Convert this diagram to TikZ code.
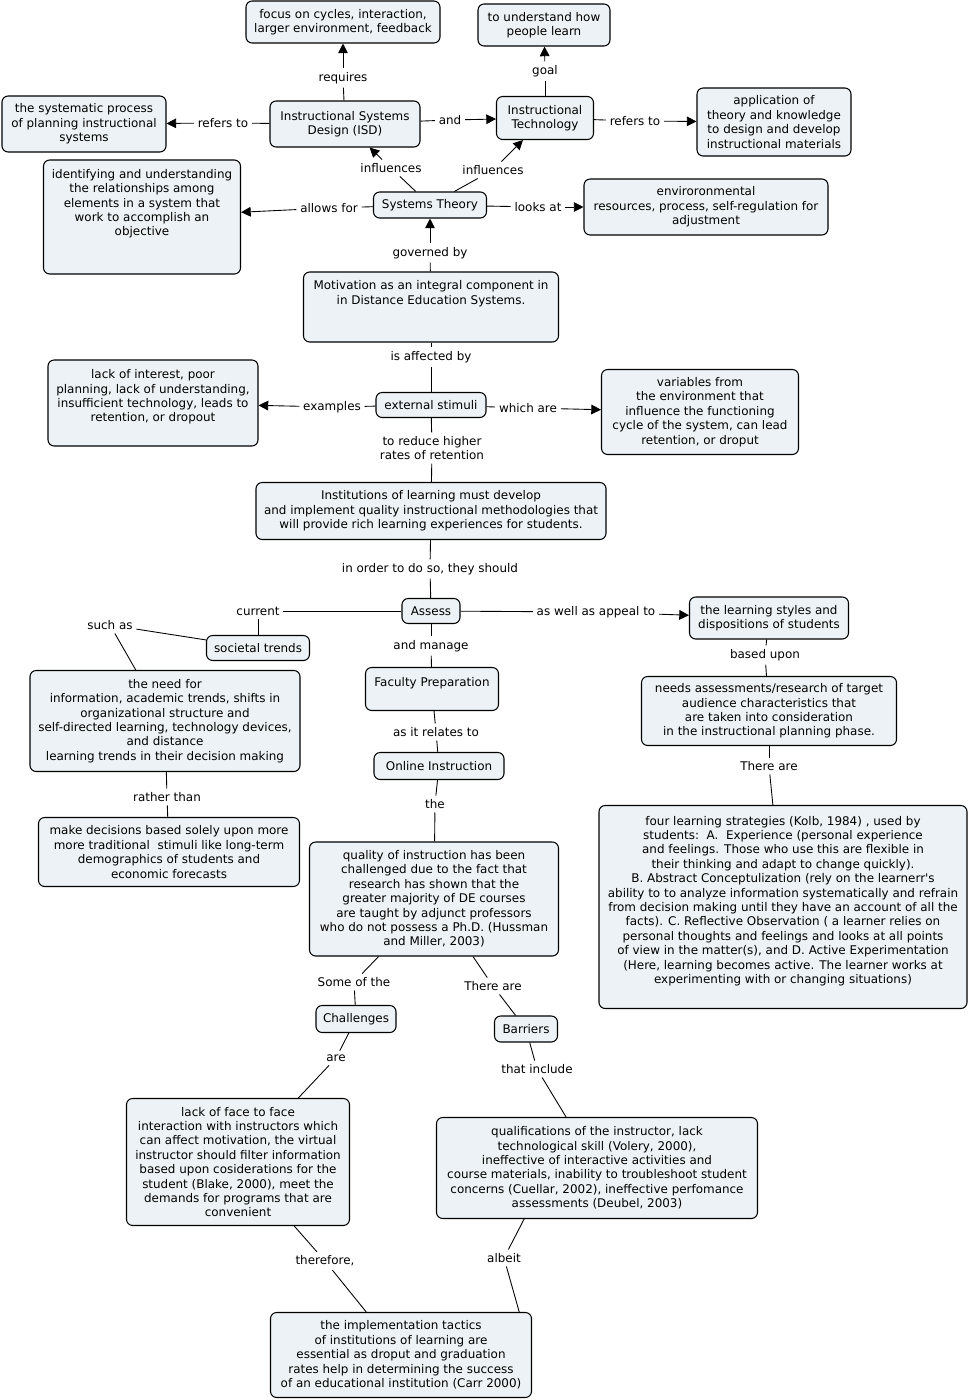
\documentclass[tikz,border=0pt]{standalone}
\usepackage{fontspec}
\setmainfont{DejaVu Sans}
\usetikzlibrary{arrows.meta}
\definecolor{conceptfill}{RGB}{236,242,245}
\tikzset{
  concept/.style={draw, fill=conceptfill, rounded corners=3.5pt, align=center, inner xsep=2pt, inner ysep=2pt, line width=0.6pt},
  sz/.style 2 args={minimum width=#1*0.02cm, minimum height=#2*0.02cm},
  linkword/.style={align=center, inner sep=2pt},
  link/.style={line width=0.5pt},
  arr/.style={line width=0.5pt, -{Triangle[length=5.5pt,width=5.5pt]}}
}
\begin{document}
\begin{tikzpicture}[x=0.02cm, y=-0.02cm, font=\fontsize{6.8}{8.2}\selectfont]
\useasboundingbox (0,0) rectangle (969,1400);

\node[concept, sz={194}{42}] (focus) at (343,22) {focus on cycles, interaction,\\larger environment, feedback};
\node[concept, sz={132}{42}] (learn) at (544,25) {to understand how\\people learn};
\node[concept, sz={164}{56}] (sysproc) at (84,124) {the systematic process\\of planning instructional\\systems};
\node[concept, sz={150}{46}] (isd) at (345,124) {Instructional Systems\\Design (ISD)};
\node[concept, sz={97}{43}] (itech) at (545,118) {Instructional\\Technology};
\node[concept, sz={154}{68}] (appl) at (774,122) {application of\\theory and knowledge\\to design and develop\\instructional materials};
\node[concept, sz={197}{114}] (relat) at (142,217) {identifying and understanding\\the relationships among\\elements in a system that\\work to accomplish an\\objective\\ \mbox{}\\ \mbox{}};
\node[concept, sz={113}{26}] (systh) at (430,205) {Systems Theory};
\node[concept, sz={244}{56}] (envir) at (706,207) {enviroronmental\\resources, process, self-regulation for\\adjustment};
\node[concept, sz={255}{70}] (motiv) at (431,307) {Motivation as an integral component in\\in Distance Education Systems.\\ \mbox{}\\ \mbox{}};
\node[concept, sz={210}{86}] (examp) at (153,403) {lack of interest, poor\\planning, lack of understanding,\\insufficient technology, leads to\\retention, or dropout\\ \mbox{}};
\node[concept, sz={110}{25}] (stimuli) at (431,405) {external stimuli};
\node[concept, sz={197}{85}] (vars) at (700,412) {variables from\\the environment that\\influence the functioning\\cycle of the system, can lead\\retention, or droput};
\node[concept, sz={350}{57}] (instit) at (431,511) {Institutions of learning must develop\\and implement quality instructional methodologies that\\will provide rich learning experiences for students.};
\node[concept, sz={58}{25}] (assess) at (431,611) {Assess};
\node[concept, sz={159}{42}] (styles) at (769,618) {the learning styles and\\dispositions of students};
\node[concept, sz={103}{25}] (trends) at (258,648) {societal trends};
\node[concept, sz={270}{101}] (need) at (165,721) {the need for\\information, academic trends, shifts in\\organizational structure and\\self-directed learning, technology devices,\\and distance\\learning trends in their decision making};
\node[concept, sz={133}{43}] (faculty) at (432,689) {Faculty Preparation\\ \mbox{}};
\node[concept, sz={255}{69}] (needs) at (769,711) {needs assessments/research of target\\audience characteristics that\\are taken into consideration\\in the instructional planning phase.};
\node[concept, sz={130}{27}] (online) at (439,766) {Online Instruction};
\node[concept, sz={261}{69}] (decide) at (169,852) {make decisions based solely upon more\\more traditional\ \ stimuli like long-term\\demographics of students and\\economic forecasts};
\node[concept, sz={368}{203}] (kolb) at (783,907) {four learning strategies (Kolb, 1984) , used by\\students:\ \ A.\ \ Experience (personal experience\\and feelings. Those who use this are flexible in\\their thinking and adapt to change quickly).\\B. Abstract Conceptulization (rely on the learnerr\textquotesingle s\\ability to to analyze information systematically and refrain\\from decision making until they have an account of all the\\facts). C. Reflective Observation ( a learner relies on\\personal thoughts and feelings and looks at all points\\of view in the matter(s), and D. Active Experimentation\\(Here, learning becomes active. The learner works at\\experimenting with or changing situations)\\ \mbox{}};
\node[concept, sz={249}{114}] (quality) at (434,899) {quality of instruction has been\\challenged due to the fact that\\research has shown that the\\greater majority of DE courses\\are taught by adjunct professors\\who do not possess a Ph.D. (Hussman\\and Miller, 2003)};
\node[concept, sz={80}{27}] (chall) at (356,1019) {Challenges};
\node[concept, sz={63}{26}] (barr) at (526,1029) {Barriers};
\node[concept, sz={223}{127}] (face) at (238,1162) {lack of face to face\\interaction with instructors which\\can affect motivation, the virtual\\instructor should filter information\\based upon cosiderations for the\\student (Blake, 2000), meet the\\demands for programs that are\\convenient};
\node[concept, sz={321}{101}] (qual) at (597,1168) {qualifications of the instructor, lack\\technological skill (Volery, 2000),\\ineffective of interactive activities and\\course materials, inability to troubleshoot student\\concerns (Cuellar, 2002), ineffective perfomance\\assessments (Deubel, 2003)};
\node[concept, sz={261}{85}] (tactics) at (401,1355) {the implementation tactics\\of institutions of learning are\\essential as droput and graduation\\rates help in determining the success\\of an educational institution (Carr 2000)};

\node[linkword] (l1) at (343,78) {requires};
\node[linkword] (l2) at (223,123) {refers to};
\node[linkword] (l3) at (450,120) {and};
\node[linkword] (l4) at (545,71) {goal};
\node[linkword] (l5) at (635,121) {refers to};
\node[linkword] (l6) at (391,168) {influences};
\node[linkword] (l7) at (493,170) {influences};
\node[linkword] (l8) at (329,208) {allows for};
\node[linkword] (l9) at (538,207) {looks at};
\node[linkword] (l10) at (430,253) {governed by};
\node[linkword] (l11) at (431,357) {is affected by};
\node[linkword] (l12) at (332,407) {examples};
\node[linkword] (l13) at (528,408) {which are};
\node[linkword] (l14) at (432,448) {to reduce higher\\rates of retention};
\node[linkword] (l15) at (430,569) {in order to do so, they should};
\node[linkword] (l16) at (258,611) {current};
\node[linkword] (l17) at (110,625) {such as};
\node[linkword] (l18) at (596,612) {as well as appeal to};
\node[linkword] (l19) at (765,655) {based upon};
\node[linkword] (l20) at (769,766) {There are};
\node[linkword] (l21) at (431,646) {and manage};
\node[linkword] (l22) at (436,732) {as it relates to};
\node[linkword] (l23) at (435,804) {the};
\node[linkword] (l24) at (167,797) {rather than};
\node[linkword] (l25) at (354,982) {Some of the};
\node[linkword] (l26) at (493,986) {There are};
\node[linkword] (l27) at (336,1058) {are};
\node[linkword] (l28) at (537,1069) {that include};
\node[linkword] (l29) at (325,1261) {therefore,};
\node[linkword] (l30) at (504,1258) {albeit};

\draw[link] (isd) -- (l1); \draw[arr] (l1) -- (focus);
\draw[link] (isd) -- (l2); \draw[arr] (l2) -- (sysproc);
\draw[link] (isd) -- (l3); \draw[arr] (l3) -- (itech);
\draw[link] (itech) -- (l4); \draw[arr] (l4) -- (learn);
\draw[link] (itech) -- (l5); \draw[arr] (l5) -- (appl);
\draw[link] (systh) -- (l6); \draw[arr] (l6) -- (isd);
\draw[link] (systh) -- (l7); \draw[arr] (l7) -- (itech);
\draw[link] (systh) -- (l8); \draw[arr] (l8) -- (relat);
\draw[link] (systh) -- (l9); \draw[arr] (l9) -- (envir);
\draw[link] (motiv) -- (l10); \draw[arr] (l10) -- (systh);
\draw[link] (motiv) -- (l11); \draw[link] (l11) -- (stimuli);
\draw[link] (stimuli) -- (l12); \draw[arr] (l12) -- (examp);
\draw[link] (stimuli) -- (l13); \draw[arr] (l13) -- (vars);
\draw[link] (stimuli) -- (l14); \draw[link] (l14) -- (instit);
\draw[link] (instit) -- (l15); \draw[link] (l15) -- (assess);
\draw[link] (assess) -- (l16); \draw[link] (l16) -- (trends);
\draw[link] (trends) -- (l17); \draw[link] (l17) -- (need);
\draw[link] (assess) -- (l18); \draw[arr] (l18) -- (styles);
\draw[link] (styles) -- (l19); \draw[link] (l19) -- (needs);
\draw[link] (needs) -- (l20); \draw[link] (l20) -- (kolb);
\draw[link] (assess) -- (l21); \draw[link] (l21) -- (faculty);
\draw[link] (faculty) -- (l22); \draw[link] (l22) -- (online);
\draw[link] (online) -- (l23); \draw[link] (l23) -- (quality);
\draw[link] (need) -- (l24); \draw[link] (l24) -- (decide);
\draw[link] (quality) -- (l25); \draw[link] (l25) -- (chall);
\draw[link] (quality) -- (l26); \draw[link] (l26) -- (barr);
\draw[link] (chall) -- (l27); \draw[link] (l27) -- (face);
\draw[link] (barr) -- (l28); \draw[link] (l28) -- (qual);
\draw[link] (face) -- (l29); \draw[link] (l29) -- (tactics);
\draw[link] (qual.215) -- (l30); \draw[link] (l30) -- (tactics.20);
\end{tikzpicture}
\end{document}
